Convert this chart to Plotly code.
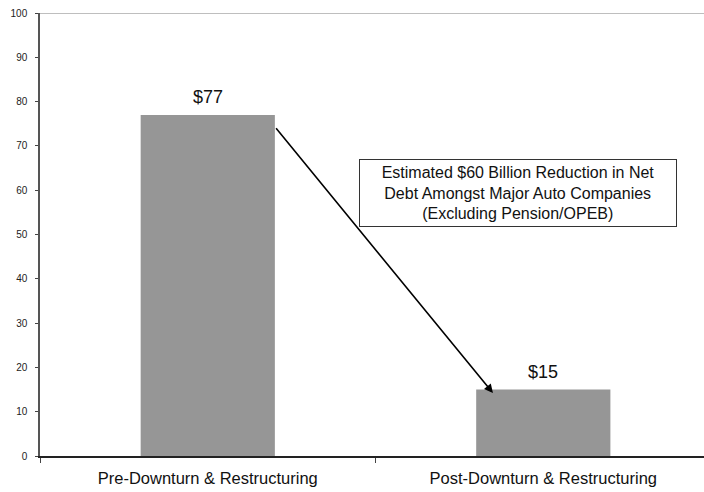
import plotly.graph_objects as go

# Net debt of the major auto companies, $ billions
categories = ["Pre-Downturn & Restructuring", "Post-Downturn & Restructuring"]
net_debt = [77, 15]
y_ticks = [0, 10, 20, 30, 40, 50, 60, 70, 80, 90, 100]
callout_lines = [
    "Estimated $60 Billion Reduction in Net",
    "Debt Amongst Major Auto Companies",
    "(Excluding Pension/OPEB)",
]

FONT = "Liberation Sans, Arial, sans-serif"

fig = go.Figure(
    go.Bar(
        x=categories,
        y=net_debt,
        width=0.4,
        marker=dict(color="#969696", line=dict(width=0)),
        hoverinfo="skip",
    )
)

# Dollar value above each bar
for cat, val in zip(categories, net_debt):
    fig.add_annotation(
        x=cat, y=val, xref="x", yref="y",
        text=f"${val}", showarrow=False,
        yanchor="middle", yshift=18,
        font=dict(family=FONT, size=18, color="#111"),
    )

# Arrow from the top of the first bar down to the second bar
fig.add_annotation(
    x=0.850, y=14.2, xref="x", yref="y",
    ax=0.200, ay=74.3, axref="x", ayref="y",
    text="", showarrow=True,
    arrowhead=2, arrowsize=1.1, arrowwidth=1.6, arrowcolor="#000",
    standoff=0, startstandoff=0,
)

# Callout box describing the reduction
fig.add_annotation(
    x=0.925, y=59.4, xref="x", yref="y",
    text="<br>".join(callout_lines), showarrow=False,
    font=dict(family=FONT, size=16, color="#111"),
    align="center", valign="middle",
    bordercolor="#333", borderwidth=1, borderpad=0, bgcolor="white",
    width=316, height=66,
)

# Light rule along the top of the plot area
fig.add_shape(
    type="line", xref="paper", yref="y", x0=0, x1=1, y0=100, y1=100,
    line=dict(color="#a8a8a8", width=1.5),
)

fig.update_layout(
    width=704, height=492,
    margin=dict(l=40, r=0, t=13, b=36),
    paper_bgcolor="white", plot_bgcolor="white",
    showlegend=False,
    font=dict(family=FONT, color="#111"),
    xaxis=dict(
        type="category",
        range=[-0.5, 1.479],
        tickson="boundaries",
        ticks="outside", ticklen=5, tickcolor="#444", tickwidth=1,
        showline=True, linecolor="#222", linewidth=1.5,
        showgrid=False, zeroline=False,
        tickfont=dict(family=FONT, size=16.5, color="#111"),
        ticklabelstandoff=6,
    ),
    yaxis=dict(
        range=[0, 100],
        tickvals=y_ticks,
        ticks="outside", ticklen=3, tickcolor="#444", tickwidth=1,
        showline=True, linecolor="#555", linewidth=1.5,
        showgrid=False, zeroline=False,
        tickfont=dict(family=FONT, size=10, color="#222"),
        ticklabelstandoff=6,
    ),
)

fig.write_html("out.html")
